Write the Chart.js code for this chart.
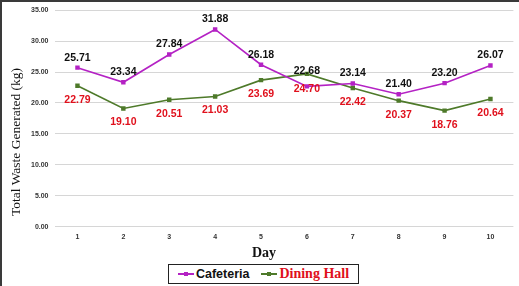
<!DOCTYPE html>
<html lang="en">
<head>
  <meta charset="UTF-8" />
  <title>Total Waste Generated</title>
  <style>
    html, body {
      margin: 0;
      padding: 0;
      background: #fff;
    }
    #wrap {
      position: relative;
      width: 519px;
      height: 286px;
      overflow: hidden;
      background: #fff;
    }
    #wrap canvas {
      position: absolute;
      left: 0;
      top: 0;
    }
    .edgeTop {
      position: absolute; left: 0; top: 0; width: 519px; height: 2px; background: #3a3a3a;
    }
    .edgeLeft {
      position: absolute; left: 0; top: 0; width: 2px; height: 286px; background: #3a3a3a;
    }
    #ytitle {
      position: absolute;
      left: 16px;
      top: 142px;
      transform: translate(-50%, -50%) rotate(-90deg);
      white-space: nowrap;
      font-family: "Liberation Serif", serif;
      font-size: 13.5px;
      color: #111;
    }
    #xtitle {
      position: absolute;
      left: 264px;
      top: 253px;
      transform: translate(-50%, -50%);
      font-family: "Liberation Serif", serif;
      font-weight: bold;
      font-size: 14px;
      color: #111;
    }
    #legend {
      position: absolute;
      left: 168px;
      top: 264px;
      width: 189px;
      height: 18px;
      border: 1px solid #222;
      display: flex;
      align-items: center;
      justify-content: center;
      gap: 12px;
      background: #fff;
    }
    .item { display: flex; align-items: center; }
    .swatch {
      position: relative;
      width: 16px;
      height: 2px;
      margin-right: 2px;
    }
    .swatch::after {
      content: "";
      position: absolute;
      left: 6px; top: -1px;
      width: 4px; height: 4px;
      background: inherit;
    }
    .caf {
      font-family: "Liberation Sans", Arial, sans-serif;
      font-weight: bold;
      font-size: 12.5px;
      color: #111;
    }
    .din {
      font-family: "Liberation Serif", serif;
      font-weight: bold;
      font-size: 14px;
      color: #e0101c;
    }
  </style>
</head>
<body>
  <div id="wrap">
    <canvas id="grafico" width="519" height="286"></canvas>
    <div class="edgeTop"></div>
    <div class="edgeLeft"></div>
    <div id="ytitle">Total Waste Generated (kg)</div>
    <div id="xtitle">Day</div>
    <div id="legend">
      <div class="item"><span class="swatch" style="background:#b422c4"></span><span class="caf">Cafeteria</span></div>
      <div class="item"><span class="swatch" style="background:#4e7a2a"></span><span class="din">Dining Hall</span></div>
    </div>
  </div>

  <script src="https://cdn.jsdelivr.net/npm/chart.js"></script>
  <script>
    const dias = ['1', '2', '3', '4', '5', '6', '7', '8', '9', '10'];
    const cafeteria = [25.71, 23.34, 27.84, 31.88, 26.18, 22.68, 23.14, 21.40, 23.20, 26.07];
    const diningHall = [22.79, 19.10, 20.51, 21.03, 23.69, 24.70, 22.42, 20.37, 18.76, 20.64];
    const yTicks = [0, 5, 10, 15, 20, 25, 30, 35];

    // rotulos de valor: cafeteria acima, dining hall abaixo
    // quando as linhas se cruzam, o rotulo passa por cima/baixo do outro ponto
    const rotulos = {
      id: 'rotulos',
      afterDatasetsDraw(chart) {
        const ctx = chart.ctx;
        const cafPts = chart.getDatasetMeta(0).data;
        const dinPts = chart.getDatasetMeta(1).data;
        ctx.save();
        ctx.textAlign = 'center';
        ctx.textBaseline = 'middle';
        ctx.font = 'bold 10.5px "Liberation Sans", Arial, sans-serif';
        cafPts.forEach((pt, j) => {
          const y = Math.min(pt.y - 10, dinPts[j].y - 3);
          ctx.fillStyle = '#111';
          ctx.fillText(cafeteria[j].toFixed(2), pt.x, y);
        });
        dinPts.forEach((pt, j) => {
          const y = Math.max(pt.y + 14, cafPts[j].y + 3);
          ctx.fillStyle = '#e0101c';
          ctx.fillText(diningHall[j].toFixed(2), pt.x, y);
        });
        ctx.restore();
      }
    };

    new Chart(document.getElementById('grafico').getContext('2d'), {
      type: 'line',
      data: {
        labels: dias,
        datasets: [
          {
            label: 'Cafeteria',
            data: cafeteria,
            borderColor: '#b422c4',
            backgroundColor: '#b422c4',
            borderWidth: 1.6,
            pointRadius: 2,
            pointStyle: 'rect',
            tension: 0
          },
          {
            label: 'Dining Hall',
            data: diningHall,
            borderColor: '#4e7a2a',
            backgroundColor: '#4e7a2a',
            borderWidth: 1.6,
            pointRadius: 2,
            pointStyle: 'rect',
            tension: 0
          }
        ]
      },
      options: {
        responsive: false,
        animation: false,
        layout: { padding: { left: 25, right: 5, top: 4, bottom: 39 } },
        plugins: {
          legend: { display: false },
          tooltip: { enabled: false }
        },
        scales: {
          x: {
            offset: true,
            grid: { display: false, drawTicks: false },
            border: { display: false },
            ticks: {
              padding: 6,
              color: '#333',
              font: { family: '"Liberation Sans", Arial, sans-serif', size: 7, weight: 'bold' }
            }
          },
          y: {
            min: 0,
            max: 35,
            afterBuildTicks(scale) {
              scale.ticks = yTicks.map(v => ({ value: v }));
            },
            grid: { color: '#d6d6d6', lineWidth: 1, drawTicks: false },
            border: { display: false },
            ticks: {
              padding: 6,
              color: '#333',
              font: { family: '"Liberation Sans", Arial, sans-serif', size: 7, weight: 'bold' },
              callback: v => Number(v).toFixed(2)
            }
          }
        }
      },
      plugins: [rotulos]
    });
  </script>
</body>
</html>
